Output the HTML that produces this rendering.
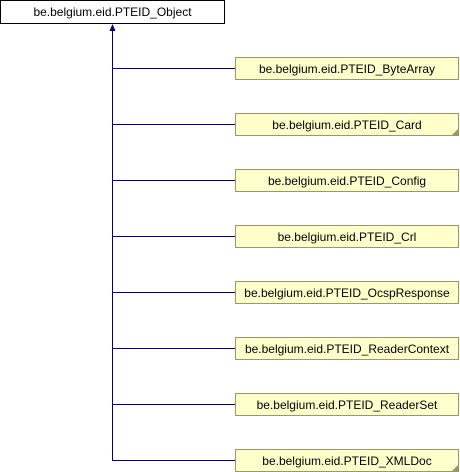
<!DOCTYPE html>
<html><head><meta charset="utf-8"><style>
html,body{margin:0;padding:0;background:#fff;}
svg{display:block;}
text{font-family:"Liberation Sans",Arial,sans-serif;font-size:12px;fill:#000;}
</style></head><body>
<svg width="460" height="472" viewBox="0 0 460 472" xmlns="http://www.w3.org/2000/svg">
<rect x="0.5" y="0.5" width="224" height="23" fill="#fff" stroke="#000"/>
<text x="112.5" y="16" text-anchor="middle">be.belgium.eid.PTEID_Object</text>
<line x1="112.5" y1="28" x2="112.5" y2="460.5" stroke="#000080" stroke-width="1"/>
<polygon points="112.5,24 109.5,31 115.5,31" fill="#000080"/>
<g stroke="#000080" stroke-width="1">
<line x1="112" y1="68.5" x2="235" y2="68.5"/>
<line x1="112" y1="124.5" x2="235" y2="124.5"/>
<line x1="112" y1="180.5" x2="235" y2="180.5"/>
<line x1="112" y1="236.5" x2="235" y2="236.5"/>
<line x1="112" y1="292.5" x2="235" y2="292.5"/>
<line x1="112" y1="348.5" x2="235" y2="348.5"/>
<line x1="112" y1="404.5" x2="235" y2="404.5"/>
<line x1="112" y1="460.5" x2="235" y2="460.5"/>
</g>
<g fill="#ffffcc" stroke="#999966">
<rect x="235.5" y="57.5" width="223" height="22"/>
<rect x="235.5" y="113.5" width="223" height="22"/>
<rect x="235.5" y="169.5" width="223" height="22"/>
<rect x="235.5" y="225.5" width="223" height="22"/>
<rect x="235.5" y="281.5" width="223" height="22"/>
<rect x="235.5" y="337.5" width="223" height="22"/>
<rect x="235.5" y="393.5" width="223" height="22"/>
<rect x="235.5" y="449.5" width="223" height="22"/>
</g>
<polygon points="452,135 458,129 458,135" fill="#999966"/>
<polygon points="452,471 458,465 458,471" fill="#999966"/>
<g text-anchor="middle">
<text x="347" y="73">be.belgium.eid.PTEID_ByteArray</text>
<text x="347" y="129">be.belgium.eid.PTEID_Card</text>
<text x="347" y="185">be.belgium.eid.PTEID_Config</text>
<text x="347" y="241">be.belgium.eid.PTEID_Crl</text>
<text x="347" y="297">be.belgium.eid.PTEID_OcspResponse</text>
<text x="347" y="353">be.belgium.eid.PTEID_ReaderContext</text>
<text x="347" y="409">be.belgium.eid.PTEID_ReaderSet</text>
<text x="347" y="465">be.belgium.eid.PTEID_XMLDoc</text>
</g>
</svg>
</body></html>
